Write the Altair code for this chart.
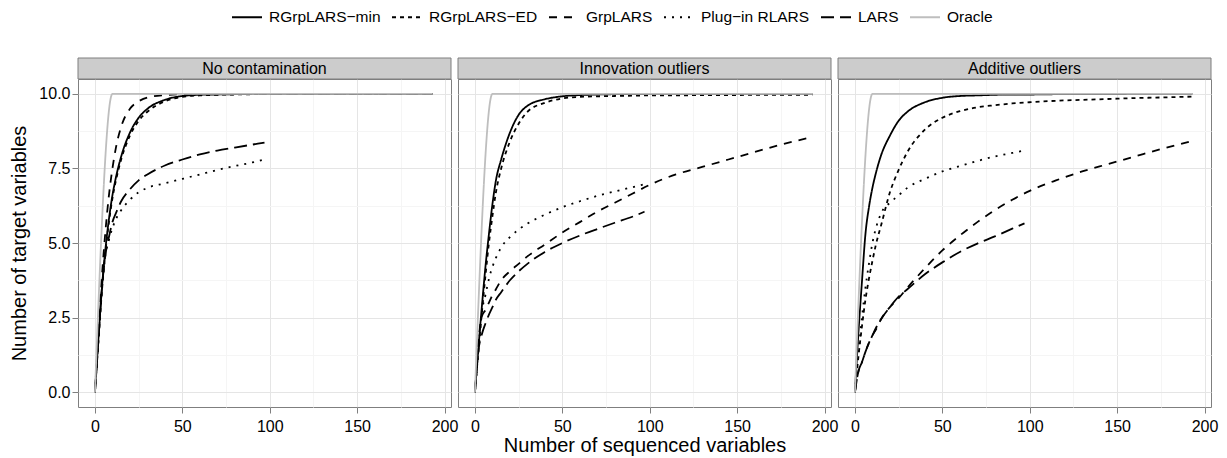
import altair as alt
import pandas as pd

FONT = "Liberation Sans"

METHODS = ["RGrpLARS−min", "RGrpLARS−ED", "GrpLARS", "Plug−in RLARS", "LARS", "Oracle"]
PANELS = ["No contamination", "Innovation outliers", "Additive outliers"]

XL = [0, 2, 4, 6, 8, 10, 12, 15, 20, 25, 30, 40, 50, 60, 70, 80, 90, 100, 115, 130, 145, 160, 175, 193]
XS = [0, 2, 4, 6, 8, 10, 12, 15, 20, 25, 30, 40, 50, 60, 70, 80, 90, 97]
X_ORACLE = [0, 10, 193]
Y_ORACLE = [0, 10, 10]

# No contamination
nc_min = [0, 1.8, 3.5, 4.8, 5.8, 6.6, 7.2, 7.9, 8.7, 9.2, 9.5, 9.8, 9.93, 9.97, 9.98, 9.99, 10, 10, 10, 10, 10, 10, 10, 10]
nc_ed = [0, 1.7, 3.4, 4.7, 5.7, 6.5, 7.1, 7.8, 8.6, 9.1, 9.4, 9.75, 9.9, 9.95, 9.97, 9.98, 9.99, 10, 10, 10, 10, 10, 10, 10]
nc_grp = [0, 2.0, 3.9, 5.4, 6.6, 7.5, 8.2, 8.9, 9.5, 9.75, 9.88, 9.96, 9.99, 10, 10, 10, 10, 10, 10, 10, 10, 10, 10, 10]
nc_plug = [0, 1.8, 3.5, 4.6, 5.1, 5.5, 5.8, 6.1, 6.45, 6.7, 6.85, 7.0, 7.15, 7.3, 7.45, 7.58, 7.7, 7.8]
nc_lars = [0, 1.8, 3.5, 4.6, 5.2, 5.7, 6.0, 6.4, 6.8, 7.1, 7.3, 7.6, 7.8, 7.97, 8.1, 8.2, 8.3, 8.37]

# Innovation outliers
io_min = [0, 1.5, 2.9, 4.2, 5.3, 6.3, 7.1, 7.8, 8.7, 9.3, 9.6, 9.82, 9.92, 9.96, 9.98, 9.99, 9.99, 10, 10, 10, 10, 10, 10, 10]
io_ed = [0, 1.4, 2.7, 3.9, 5.0, 5.9, 6.7, 7.5, 8.4, 9.0, 9.4, 9.7, 9.85, 9.9, 9.92, 9.93, 9.94, 9.95, 9.95, 9.96, 9.96, 9.97, 9.97, 9.97]
io_grp = [0, 1.7, 2.55, 2.75, 3.0, 3.25, 3.45, 3.75, 4.05, 4.3, 4.55, 4.95, 5.35, 5.7, 6.05, 6.35, 6.65, 6.95, 7.3, 7.55, 7.8, 8.05, 8.3, 8.55]
io_plug = [0, 1.4, 2.7, 3.25, 3.8, 4.2, 4.5, 4.85, 5.2, 5.45, 5.65, 5.95, 6.2, 6.4, 6.58, 6.73, 6.87, 6.97]
io_lars = [0, 1.4, 1.95, 2.3, 2.6, 2.85, 3.1, 3.35, 3.75, 4.05, 4.3, 4.7, 5.0, 5.25, 5.47, 5.68, 5.88, 6.05]

# Additive outliers
ao_min = [0, 2.0, 3.7, 5.3, 6.2, 6.85, 7.35, 7.95, 8.6, 9.1, 9.4, 9.72, 9.87, 9.93, 9.95, 9.97, 9.98, 9.98, 9.99, 9.99, 9.99, 10, 10, 10]
ao_ed = [0, 1.2, 2.2, 3.1, 3.8, 4.4, 4.95, 5.6, 6.7, 7.45, 8.05, 8.8, 9.2, 9.42, 9.55, 9.62, 9.68, 9.72, 9.77, 9.8, 9.83, 9.86, 9.88, 9.91]
ao_grp = [0, 0.7, 1.0, 1.35, 1.65, 1.9, 2.1, 2.45, 2.85, 3.15, 3.5, 4.15, 4.75, 5.25, 5.7, 6.1, 6.45, 6.75, 7.1, 7.4, 7.65, 7.9, 8.15, 8.42]
ao_plug = [0, 1.3, 2.5, 3.5, 4.3, 5.0, 5.5, 6.0, 6.35, 6.6, 6.85, 7.15, 7.4, 7.58, 7.75, 7.9, 8.02, 8.1]
ao_lars = [0, 0.7, 1.0, 1.35, 1.65, 1.9, 2.15, 2.45, 2.85, 3.2, 3.45, 3.95, 4.35, 4.7, 4.98, 5.22, 5.48, 5.66]

SERIES = {
    "No contamination": [nc_min, nc_ed, nc_grp, nc_plug, nc_lars],
    "Innovation outliers": [io_min, io_ed, io_grp, io_plug, io_lars],
    "Additive outliers": [ao_min, ao_ed, ao_grp, ao_plug, ao_lars],
}
XGRIDS = [XL, XL, XL, XS, XS]

rows = []
for p in PANELS:
    for k, (m, ys) in enumerate(zip(METHODS[:5], SERIES[p])):
        for j, (x, y) in enumerate(zip(XGRIDS[k], ys)):
            rows.append({"panel": p, "method": m, "x": x, "y": y, "o": j, "k": k})
    for j, (x, y) in enumerate(zip(X_ORACLE, Y_ORACLE)):
        rows.append({"panel": p, "method": "Oracle", "x": x, "y": y, "o": j, "k": 5})
df = pd.DataFrame(rows)

W, H = 373, 328
STRIP = 21

color_scale = alt.Scale(domain=METHODS, range=["#000000"] * 5 + ["#BEBEBE"])
dash_scale = alt.Scale(domain=METHODS, range=[[1, 0], [4, 4], [8, 7], [2, 6], [13, 6], [1, 0]])

legend = alt.Legend(
    orient="none", legendX=160, legendY=-71, direction="horizontal", title=None,
    symbolType="M-1.875,0H1.875", symbolSize=256, symbolStrokeWidth=1.8,
    symbolFillColor="transparent", labelFontSize=15.5,
    labelFont=FONT, columnPadding=7, labelOffset=13, columns=6, padding=0,
)

XV = [0, 25, 50, 75, 100, 125, 150, 175, 200]
YV = [0, 1.25, 2.5, 3.75, 5, 6.25, 7.5, 8.75, 10]


def make_panel(i, name):
    d = df[df.panel == name]
    xaxis = alt.Axis(
        values=XV,
        labelExpr="datum.value % 50 === 0 ? datum.label : ''",
        gridColor={"condition": {"test": "datum.value % 50 !== 0", "value": "#F5F5F5"}, "value": "#E5E5E5"},
        tickOpacity={"condition": {"test": "datum.value % 50 !== 0", "value": 0}, "value": 1},
        title="Number of sequenced variables" if i == 1 else None,
    )
    if i == 0:
        yaxis = alt.Axis(
            values=YV,
            labelExpr="datum.value % 2.5 === 0 ? format(datum.value, '.1f') : ''",
            gridColor={"condition": {"test": "datum.value % 2.5 !== 0", "value": "#F5F5F5"}, "value": "#E5E5E5"},
            tickOpacity={"condition": {"test": "datum.value % 2.5 !== 0", "value": 0}, "value": 1},
            title="Number of target variables",
        )
    else:
        yaxis = alt.Axis(
            values=YV, labels=False, ticks=False, title=None,
            gridColor={"condition": {"test": "datum.value % 2.5 !== 0", "value": "#F5F5F5"}, "value": "#E5E5E5"},
        )
    lines = alt.Chart(d).mark_line(strokeWidth=1.8, interpolate="monotone").encode(
        x=alt.X("x:Q", scale=alt.Scale(domain=[-9.7, 203.7], nice=False, zero=False), axis=xaxis),
        y=alt.Y("y:Q", scale=alt.Scale(domain=[-0.5, 10.5], nice=False, zero=False), axis=yaxis),
        color=alt.Color("method:N", scale=color_scale, legend=legend),
        strokeDash=alt.StrokeDash("method:N", scale=dash_scale, legend=legend),
        detail="k:N",
        order="o:Q",
    )
    sd = pd.DataFrame({"panel": [name]})
    strip = alt.Chart(sd).mark_rect(fill="#CCCCCC", stroke="#7F7F7F", strokeWidth=1).encode(
        x=alt.value(0), x2=alt.value(W), y=alt.value(-STRIP), y2=alt.value(0)
    )
    label = alt.Chart(sd).mark_text(fontSize=16, font=FONT, color="#000000").encode(
        x=alt.value(W / 2), y=alt.value(-STRIP / 2), text="panel:N"
    )
    return alt.layer(lines, strip, label).properties(width=W, height=H)


panels = [make_panel(i, p) for i, p in enumerate(PANELS)]
chart = alt.hconcat(*panels, spacing=7, bounds="flush").properties(
    padding={"left": 0, "top": 0, "right": 0, "bottom": 0}
).configure_view(
    stroke="#7F7F7F", strokeWidth=1
).configure_axis(
    domain=False, tickColor="#7F7F7F", labelFontSize=16, labelFont=FONT,
    labelColor="#000000", titleFont=FONT, titleFontSize=20, titleFontWeight="normal",
    titleColor="#000000",
).configure_axisX(
    tickSize=6, labelPadding=5, titlePadding=1,
).configure_axisY(
    tickSize=6, labelPadding=2, titlePadding=9.5,
).configure_legend(
    labelColor="#000000"
)

chart.save("out.html", embed_options={"renderer": "svg", "actions": False})
